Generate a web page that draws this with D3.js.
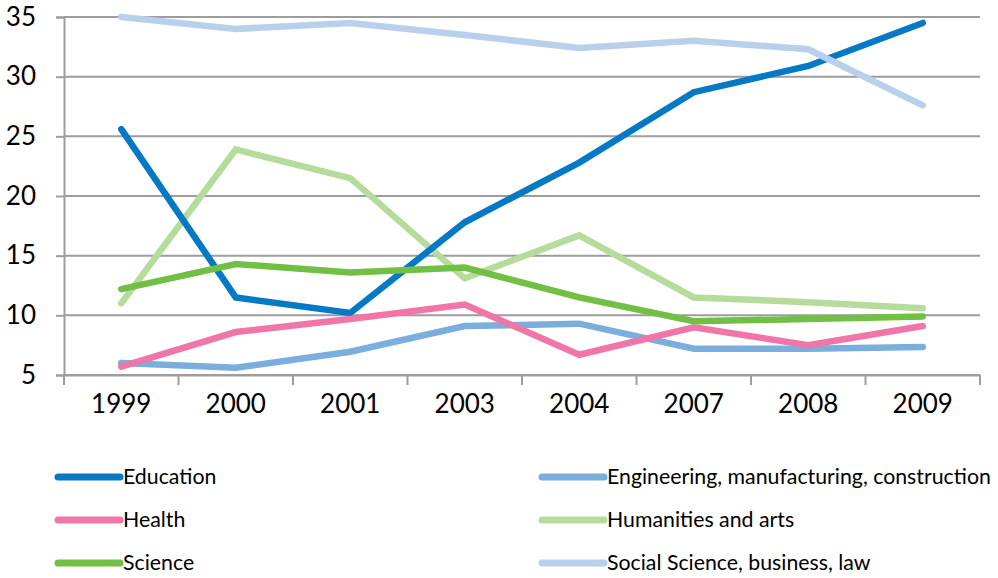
<!DOCTYPE html>
<html><head><meta charset="utf-8">
<script src="https://cdn.jsdelivr.net/npm/d3@7"></script>
<style>html,body{margin:0;padding:0;background:#fff;}svg{display:block;font-family:Lato,"Liberation Sans",sans-serif;}</style>
</head><body>
<svg id="c" width="998" height="578"></svg>
<script>
const categories = ["1999","2000","2001","2003","2004","2007","2008","2009"];
const seriesNames = ["Education","Engineering, manufacturing, construction","Health","Humanities and arts","Science","Social Science, business, law"];
const education   = [25.6, 11.5, 10.2, 17.8, 22.8, 28.7, 30.9, 34.5];
const engineering = [6.0, 5.6, 6.95, 9.1, 9.3, 7.2, 7.2, 7.35];
const health      = [5.7, 8.6, 9.7, 10.9, 6.7, 9.0, 7.5, 9.1];
const humanities  = [11.0, 23.9, 21.5, 13.1, 16.7, 11.5, 11.1, 10.6];
const science     = [12.2, 14.3, 13.6, 14.0, 11.5, 9.5, 9.7, 9.9];
const social      = [35.0, 34.0, 34.5, 33.5, 32.4, 33.0, 32.3, 27.6];
const yTicks = [5,10,15,20,25,30,35];
const colors = ["#0579c4","#7aaedc","#f075a8","#b5dc9b","#71bf44","#b9d0ed"];

const values = [education, engineering, health, humanities, science, social];
const drawOrder = [3,1,0,2,4,5];

const svg = d3.select("#c");
const L = 64, R = 980, T = 17, B = 375;
const x = d3.scaleBand().domain(categories).range([L, R]);
const y = d3.scaleLinear().domain([5,35]).range([B, T]);

// gridlines
svg.append("g").selectAll("line").data(yTicks).join("line")
  .attr("x1", L).attr("x2", R).attr("y1", d=>y(d)).attr("y2", d=>y(d))
  .attr("stroke", "#9d9d9d").attr("stroke-width", 2);

// y axis
const ya = svg.append("g").attr("transform", `translate(${L},0)`)
  .call(d3.axisLeft(y).tickValues(yTicks).tickSize(8).tickPadding(20));
ya.select(".domain").attr("stroke","#9d9d9d").attr("stroke-width",2);
ya.selectAll(".tick line").attr("stroke","#9d9d9d").attr("stroke-width",2);
ya.selectAll("text").attr("font-size", 26).attr("fill","#000").attr("font-family","Lato,sans-serif");

// x axis
const xa = svg.append("g").attr("transform", `translate(0,${B})`)
  .call(d3.axisBottom(x).tickSize(0).tickPadding(20));
xa.select(".domain").attr("stroke","#9d9d9d").attr("stroke-width",2);
xa.selectAll("text").attr("font-size", 26).attr("fill","#000").attr("font-family","Lato,sans-serif");
// category boundary ticks
const bounds = categories.map(c => x(c)).concat([R]);
svg.append("g").selectAll("line").data(bounds).join("line")
  .attr("x1", d=>d).attr("x2", d=>d).attr("y1", B).attr("y2", B+10)
  .attr("stroke","#9d9d9d").attr("stroke-width",2);

// lines
const line = d3.line().x((d,i)=>x(categories[i]) + x.bandwidth()/2).y(d=>y(d));
svg.append("g").selectAll("path").data(drawOrder).join("path")
  .attr("d", i => line(values[i]))
  .attr("fill","none").attr("stroke", i=>colors[i]).attr("stroke-width",6.5)
  .attr("stroke-linecap","round").attr("stroke-linejoin","miter");

// legend
const legX = [58, 542], legY = [477, 520, 563];
const leg = svg.append("g").selectAll("g").data(seriesNames).join("g")
  .attr("transform", (d,i) => `translate(${legX[i%2]},${legY[Math.floor(i/2)]})`);
leg.append("line").attr("x1",0).attr("x2",62).attr("y1",0).attr("y2",0)
  .attr("stroke",(d,i)=>colors[i]).attr("stroke-width",7).attr("stroke-linecap","round");
leg.append("text").attr("x",65).attr("y",0).attr("dy","0.35em")
  .attr("font-size",21.3).attr("fill","#000").text(d=>d);
</script>
</body></html>
